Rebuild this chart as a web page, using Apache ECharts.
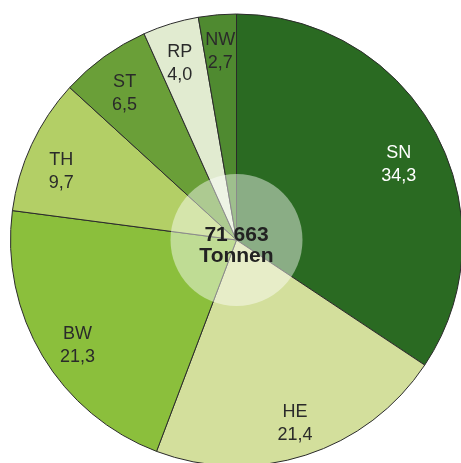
<!DOCTYPE html>
<html>
<head>
<meta charset="utf-8">
<script src="https://cdn.jsdelivr.net/npm/echarts@6/dist/echarts.min.js"></script>
<style>html,body{margin:0;padding:0;background:#fff}#c{width:461px;height:463px}</style>
</head>
<body>
<div id="c"></div>
<script>
const categories = ['SN', 'HE', 'BW', 'TH', 'ST', 'RP', 'NW'];
const values = [34.3, 21.4, 21.3, 9.7, 6.5, 4.0, 2.7];
const colors = ['#2a6a22', '#d3df9c', '#8bbf3c', '#b3cf66', '#6a9f38', '#e1ebd0', '#4f8a30'];
const labelColors = ['#ffffff', '#2a2a2a', '#2a2a2a', '#2a2a2a', '#2a2a2a', '#2a2a2a', '#2a2a2a'];
const labelShift = [[-6, 15], [0, 2], [5, 7], [-2, 12], [0, 8], [-1, 6], [0, 2]];
const totalText = '71 663\nTonnen';

const fmt = v => v.toFixed(1).replace('.', ',');
const center = [236.5, 240];
const chart = echarts.init(document.getElementById('c'));
chart.setOption({
  animation: false,
  series: [
    {
      type: 'pie', center, radius: [0, 226], startAngle: 90, clockwise: true,
      silent: true, label: { show: false }, labelLine: { show: false },
      itemStyle: { borderColor: '#2b2b2b', borderWidth: 1 },
      data: categories.map((c, i) => ({ name: c, value: values[i], itemStyle: { color: colors[i] } }))
    },
    {
      type: 'pie', center, radius: [150, 226], startAngle: 90, clockwise: true,
      silent: true, labelLine: { show: false },
      itemStyle: { color: 'rgba(0,0,0,0)', borderWidth: 0 },
      label: {
        show: true, position: 'inside', fontFamily: 'Liberation Sans, Arial, sans-serif',
        fontSize: 18, lineHeight: 23
      },
      data: categories.map((c, i) => ({
        name: c, value: values[i],
        label: { color: labelColors[i], formatter: c + '\n' + fmt(values[i]), offset: labelShift[i] }
      }))
    },
    {
      type: 'pie', center, radius: [0, 66], silent: true, labelLine: { show: false },
      itemStyle: { color: 'rgba(255,255,255,0.45)', borderWidth: 0 },
      label: {
        show: true, position: 'center', formatter: totalText,
        fontFamily: 'Liberation Sans, Arial, sans-serif', fontWeight: 'bold',
        fontSize: 21, lineHeight: 21, color: '#222', offset: [0, 6]
      },
      data: [{ name: 'total', value: 1 }]
    }
  ]
});
</script>
</body>
</html>
